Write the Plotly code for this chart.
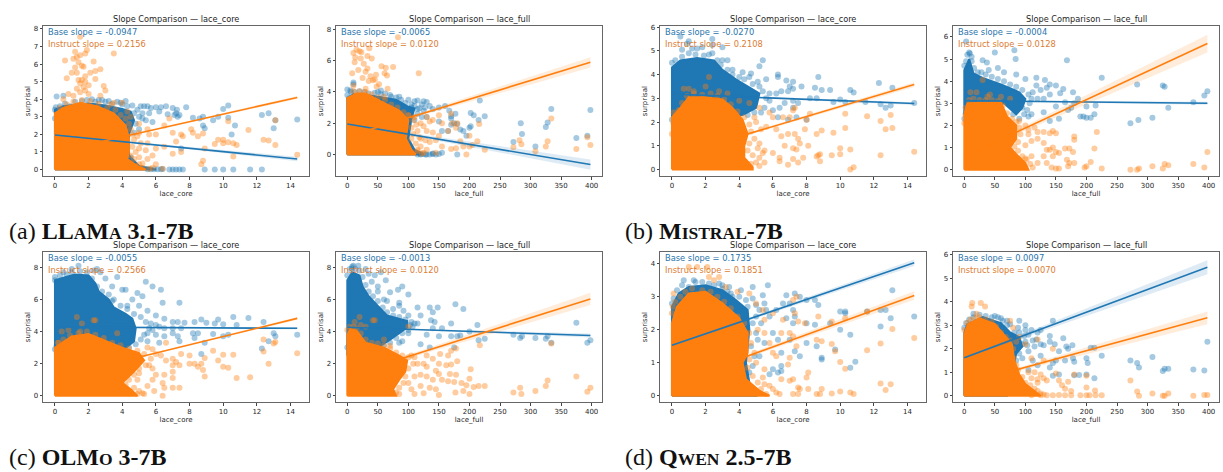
import plotly.graph_objects as go

W, H = 1223, 472
BLUE, ORANGE = "#1f77b4", "#ff7f0e"
INK = "#262626"
FONT = "DejaVu Sans"

TITLES = ["lace_core", "lace_full"] * 4
BASE_SLOPES = ["-0.0947", "-0.0065", "-0.0270", "-0.0004", "-0.0055", "-0.0013", "0.1735", "0.0097"]
INST_SLOPES = ["0.2156", "0.0120", "0.2108", "0.0128", "0.2566", "0.0120", "0.1851", "0.0070"]

CORE_TICKS = [0, 2, 4, 6, 8, 10, 12, 14]
FULL_TICKS = [0, 50, 100, 150, 200, 250, 300, 350, 400]
Y_TICKS = [[0,1,2,3,4,5,6,7,8], [0,2,4,6,8], [0,1,2,3,4,5,6], [0,1,2,3,4,5,6],
           [0,2,4,6,8], [0,2,4,6,8], [0,1,2,3,4], [0,1,2,3,4,5,6]]
X_RANGES = [(-0.71,15.1), (-18.5,417)] * 4
Y_RANGES = [(-0.38,8.17), (-1.4,8.23), (-0.28,6.05), (-0.3,6.5),
            (-0.41,8.96), (-0.41,8.96), (-0.2,4.36), (-0.28,6.13)]

# plot frames: left, right, top, bottom
FRAMES = [(43,309,24,175), (336,602,24,175), (660,926,24,175), (953,1219,24,175),
          (43,309,251,402), (336,602,251,402), (660,926,251,402), (953,1219,251,402)]

LINE_X1 = [14.4, 398] * 4
BASE_Y0 = [1.97, 1.95, 3.18, 3.12, 4.28, 4.27, 1.53, 1.62]
BASE_Y1 = [0.60, -0.65, 2.78, 3.00, 4.20, 3.75, 4.03, 5.48]
BASE_HW = [0.13, 0.33, 0.06, 0.07, 0.08, 0.12, 0.10, 0.30]
INST_Y0 = [1.00, 1.15, 0.55, 0.60, 1.12, 1.25, 0.37, 0.50]
INST_Y1 = [4.10, 5.90, 3.58, 5.70, 4.82, 6.03, 3.04, 3.32]
INST_HW = [0.08, 0.33, 0.10, 0.40, 0.08, 0.38, 0.13, 0.27]

# dense clouds, outlined
BASE_CORE = [
 [(0,0),(0,3.4),(0.5,3.6),(2,3.75),(3,3.65),(4,3.45),(4.5,3.3),(4.7,2.8),(4.4,2.0),(4.4,0.8),(5,0.2),(6,0)],
 [(0,0),(0,3.6),(10,3.85),(40,3.75),(80,3.5),(100,3.05),(110,2.95),(105,2.3),(100,1),(110,0.3),(125,0)],
 [(0,2.2),(0,4.3),(0.5,4.6),(1.5,4.7),(2.5,4.6),(3,4.2),(3.8,3.8),(4.5,3.5),(5.2,3.2),(5,2.6),(4.2,2.3)],
 [(0,2.5),(0,4.5),(8,5.0),(15,4.35),(30,4.15),(60,3.85),(90,3.5),(100,3.2),(95,2.8),(85,2.5),(65,3)],
 [(0,2.5),(0,7.2),(0.5,7.35),(1.2,7.55),(2,7.5),(2.4,7),(2.6,6.5),(3.2,6),(3.5,5.5),(4.2,5.1),(4.6,4.8),(4.8,4.2),(4.7,3.4),(4,2.8)],
 [(0,2.5),(0,7.2),(8,7.7),(20,7.5),(25,6.8),(35,6.2),(50,5.6),(65,5),(98,4.65),(98,4.25),(70,3.5),(50,3)],
 [(0,0),(0,2.7),(0.4,3.1),(1,3.3),(2,3.35),(3,3.2),(3.8,2.9),(4.5,2.6),(4.6,2),(4.4,1),(4.6,0.4),(5,0)],
 [(0,0),(0,2.7),(5,3.05),(30,3.35),(60,3.1),(75,2.7),(90,2.5),(95,2.1),(85,1.8),(80,1.2),(70,0)],
]
INST_CORE = [
 [(0,0),(0,3.2),(0.5,3.5),(1.5,3.8),(2.5,3.6),(3.5,3.2),(4.2,2.5),(4.4,1.8),(4.4,1.0),(4.3,0.6),(4.9,0.2),(5.4,0)],
 [(0,0),(0,3.6),(15,3.9),(30,3.9),(60,3.3),(85,2.8),(100,2.2),(98,1.6),(96,1),(105,0.3),(112,0)],
 [(0,0),(0,2.2),(0.5,2.6),(1,3.05),(2,3.05),(3,2.95),(3.6,2.6),(4.2,2.1),(4.5,1.5),(4.3,1),(4.3,0.5),(4.8,0.1),(4.8,0)],
 [(0,0),(0,2.5),(5,3),(60,3.05),(70,2.4),(85,2),(85,1.4),(75,1),(85,0.7),(100,0.3),(105,0)],
 [(0,0),(0,3),(0.3,3.2),(1,3.7),(2,3.85),(3,3.45),(4,3),(5,2.65),(5.3,2.2),(4.7,1.5),(4,0.8),(4.5,0.4),(4.9,0)],
 [(0,0),(0,3.8),(5,4.15),(15,4.05),(30,3.3),(60,3.0),(85,2.5),(98,2.2),(95,1.5),(85,1),(75,0.4),(80,0)],
 [(0,0),(0,2.2),(0.3,2.7),(1,3.1),(2,3.15),(3,2.8),(4,2.35),(4.5,1.9),(4.5,1.3),(4.2,1),(4.4,0.5),(5.2,0.15),(5.8,0)],
 [(0,0),(0,2.6),(6,3.05),(25,3.3),(50,3.05),(65,2.6),(78,2.2),(82,1.5),(90,0.9),(100,0.5),(115,0.2),(125,0)],
]

# points along the edge of each cloud
BASE_EDGE = [
 [(0,3.4),(0.05,3.55),(0.1,3.3),(0.3,3.6),(0.6,3.75),(0.9,3.6),(1.2,3.85),(1.6,3.9),(1.9,3.95),(2.4,3.85),(2.6,3.95),(3,3.85),(3.4,3.75),(3.7,3.85),(4,3.7),(4.3,3.6),(4.6,3.65),(4.9,3.4),(4.7,3.2),(5,3.0),(5.2,2.9),(4.8,2.6),(5,2.3),(4.7,2.1),(5.4,2.8),(5.8,2.7),(5.5,0.02),(5.7,0.02),(5.9,0.02),(6.1,0.02),(6.3,0.02),(6.4,0.03),(0,2.9)],
 [(0,3.8),(3,3.6),(6,4),(12,4),(20,4.05),(28,4.0),(35,3.9),(45,3.95),(55,3.85),(62,3.9),(72,3.7),(80,3.65),(88,3.5),(95,3.3),(105,3.2),(110,3.1),(118,2.95),(122,3.2),(127,3.0),(115,2.6),(122,2.4),(110,2.2),(105,2.5),(128,0),(135,0),(140,0.02),(145,0),(150,0.02),(125,0.02),(120,0),(115,0)],
 [(0,4.5),(0.2,4.6),(0.6,4.75),(1,4.9),(1.4,4.85),(1.9,4.8),(2.2,4.85),(2.7,4.6),(2.9,4.4),(3.3,4.2),(3.6,4.0),(4,3.9),(4.3,3.8),(4.8,3.6),(5.1,3.7),(5.4,3.3),(5.6,3),(5.8,2.9),(5.5,2.6),(5.3,2.4),(4.9,2.4),(4.5,2.3),(0,2.1),(0.1,1.95),(0.3,2.2),(0.15,2.35),(0.25,2.5)],
 [(0,4.7),(3,4.9),(5,5.2),(9,5.25),(12,4.9),(16,4.6),(22,4.4),(28,4.4),(35,4.3),(45,4.2),(55,4.1),(65,4.0),(75,3.85),(85,3.75),(95,3.6),(105,3.4),(110,3.2),(107,3),(103,2.7),(98,2.5),(90,2.3),(80,2.5),(0,2.3),(2,2.5),(95,2.8),(112,3.5)],
 [(0,7.4),(0.3,7.5),(0.7,7.55),(1,7.7),(1.5,7.75),(1.9,7.7),(2.2,7.3),(2.5,6.8),(2.8,6.5),(3.2,6.3),(3.4,5.9),(3.9,5.6),(4.3,5.4),(4.7,5.1),(5.1,4.9),(5.4,4.6),(5.6,4.2),(5.3,3.8),(5.1,3.5),(4.8,3.2),(4.4,3),(0,2.9),(0.1,3.1),(5.8,4.1),(6.2,4.3),(6.5,4.2),(7,4.2),(7.5,4.2),(6,4.4)],
 [(0,7.5),(4,7.9),(8,7.95),(13,7.9),(20,7.8),(25,7.4),(30,6.9),(35,6.5),(42,6.2),(50,5.9),(58,5.5),(65,5.2),(75,5),(85,4.9),(95,4.75),(105,4.6),(103,4.4),(107,4.3),(100,4.1),(90,3.9),(80,3.6),(70,3.3),(60,3.1),(50,2.9),(40,2.9),(0,3),(3,3.2)],
 [(0,2.8),(0.1,2.95),(0.3,3.2),(0.6,3.35),(1,3.3),(1.4,3.45),(1.8,3.45),(2.2,3.4),(2.5,3.35),(3,3.25),(3.3,3.15),(3.6,3),(4,3),(4.4,2.9),(4.8,2.95),(5,2.75),(5.2,2.6),(5,2.4),(4.8,2.2),(5,1.9),(5.1,1.7),(4.7,1.5),(4.9,1.2),(4.8,0.9),(4.6,0.7),(3.5,3.1),(4.5,2.7),(5.3,2.2),(5.6,2.6),(5.8,2.4)],
 [(0,2.9),(3,3.1),(8,3.25),(15,3.35),(25,3.45),(35,3.4),(45,3.35),(55,3.35),(63,3.2),(70,3),(75,3.05),(82,2.7),(90,2.7),(98,2.55),(105,2.6),(110,2.8),(112,2.35),(103,2.15),(95,2.2),(90,1.8),(85,1.5),(95,1.6),(82,1.1),(78,0.9),(105,1.9),(100,2.8),(118,2.4),(125,2.2),(88,2.9)],
]
INST_EDGE = [
 [(4.4,2.6),(4.5,2.3),(4.6,2),(4.7,1.7),(4.9,1.9),(5.1,1.5),(4.6,1.3),(4.8,1),(4.5,0.8),(4.7,0.6),(5,0.7),(5.2,0.35),(4.8,0.2),(5.2,0.1),(5.6,0.05),(5.8,0.1),(4.2,2.9),(3.9,3.1),(3.6,3.4),(3.1,3.5),(2.6,3.75),(2.1,3.9),(1.6,3.95),(1.1,3.85),(0.7,3.7),(0.3,3.5),(5.4,1.1),(5.6,2.0),(5,2.1),(4.3,3.3),(3.3,3.7)],
 [(10,4.05),(20,4.05),(30,4),(40,3.85),(50,3.65),(62,3.5),(72,3.2),(82,3),(92,2.7),(100,2.5),(108,2.2),(113,1.9),(105,1.7),(115,1.5),(108,1.3),(105,1),(118,1.1),(112,0.7),(120,0.5),(115,0.2),(122,0.05),(130,0.3),(125,1.8),(128,0.9)],
 [(0,1.5),(0.1,2.4),(0.4,2.5),(0.6,2.8),(0.9,3.1),(1.3,3.2),(1.8,3.15),(2.3,3.2),(2.7,3.1),(3.1,2.95),(3.5,2.75),(3.9,2.45),(4.3,2.2),(4.6,1.9),(4.7,1.6),(4.9,1.3),(4.6,1.1),(4.5,0.8),(4.8,0.6),(5,0.3),(4.7,0.25),(5.2,0.15),(5.4,0.7),(5.3,1.7),(4.9,2.2),(5.1,0.9)],
 [(0,2.1),(2,2.8),(8,3.15),(15,3.2),(25,3.15),(35,3.15),(45,3.15),(55,3.1),(63,2.9),(70,2.55),(78,2.3),(85,2.15),(90,1.9),(92,1.6),(88,1.25),(82,1.05),(88,0.85),(95,0.6),(102,0.45),(108,0.25),(112,0.1),(100,1.1),(105,1.8)],
 [(0.2,3.3),(0.5,3.5),(0.9,3.75),(1.4,3.9),(1.9,4),(2.4,3.8),(2.9,3.6),(3.4,3.3),(3.9,3.15),(4.4,2.95),(4.9,2.8),(5.3,2.6),(5.7,2.3),(5.4,1.9),(5,1.7),(4.7,1.3),(4.4,1),(4.2,0.7),(4.7,0.5),(5,0.3),(5.2,0.15),(4.9,1),(5.6,1.9),(4.9,0.1)],
 [(0,4.1),(4,4.3),(10,4.3),(15,4.2),(22,3.9),(30,3.5),(40,3.3),(50,3.25),(60,3.15),(70,2.95),(80,2.7),(90,2.5),(100,2.4),(108,2),(100,1.7),(95,1.2),(92,0.8),(85,0.5),(80,0.2),(85,0.1),(100,0.8),(110,1.2),(105,0.4)],
 [(0,2.5),(0.05,2.7),(0.2,2.85),(0.5,3),(0.8,3.15),(1.2,3.25),(1.8,3.2),(2.3,3.15),(2.7,3),(3.1,2.85),(3.5,2.65),(3.9,2.4),(4.3,2.2),(4.6,1.9),(4.7,1.6),(4.9,1.3),(4.6,1.1),(4.5,0.85),(4.8,0.6),(5.1,0.4),(5.5,0.35),(5.8,0.3),(6,0.2),(6.2,0.1),(6.4,0.05),(5,0.15),(5.3,0.2),(5.6,0.05),(5.1,2),(5.4,0.55)],
 [(0,2.8),(5,3.1),(10,3.25),(18,3.3),(25,3.35),(35,3.25),(45,3.15),(52,2.95),(60,2.7),(68,2.5),(75,2.35),(80,2),(80,1.6),(85,1.3),(88,1.1),(95,0.8),(100,0.55),(108,0.45),(115,0.3),(120,0.2),(125,0.1),(130,0.05),(92,0.35),(105,1),(120,0.55),(110,0.75),(85,2.3)],
]

# individually visible points
BASE_PTS = [
 [(0.1,4.15),(0.5,4.2),(2.2,4.0),(2.8,3.95),(3.2,3.9),(4.2,3.9),(3.9,3.8),(5.1,3.6),(5.3,3.6),(5.5,3.6),(5.7,3.5),(6,3.55),(6.3,3.55),(6.6,3.6),(7,3.5),(7.2,3.2),(7.25,3.4),(7.3,3.0),(7.8,3.55),(5.2,3.2),(5.6,3.2),(6.2,3.3),(6.7,3.15),(7.1,3.1),(7.4,3.1),(8.2,2.95),(8.6,2.9),(8.8,3),(8.8,2.5),(8.9,2.35),(9.4,2.8),(9.7,3),(10,3.45),(10.3,3.65),(10.3,2.95),(10.7,2.5),(10.5,2),(12.3,3.1),(12.7,3.2),(13.1,2.8),(13,2.35),(14.4,2.85),(6.8,0),(7,0),(7.2,0),(7.4,0),(7.6,0),(8.9,0),(9.5,0),(10,0),(10.6,0),(11.6,0),(12.3,0),(7.5,1.2),(4.5,0.7)],
 [(0,4.15),(5,4.1),(10,4.5),(10,4.6),(50,4.0),(55,4.1),(70,3.8),(85,3.7),(100,3.5),(110,3.4),(115,3.45),(125,3.4),(130,3.35),(135,3.1),(105,3),(115,2.9),(125,2.8),(130,2.4),(140,2.9),(150,3),(160,3.1),(167,2.8),(170,2.45),(170,2.3),(177,2.6),(150,2.1),(155,1.5),(165,1.5),(170,1.9),(175,2),(180,1.95),(185,1.6),(190,1.5),(195,1.2),(200,1.7),(202,1.8),(202,2.65),(207,2.5),(215,2.2),(217,3.45),(225,2.45),(180,0),(155,0.1),(272,0.8),(284,2),(286,1.3),(308,0.5),(325,1.75),(328,2.05),(334,2.9),(375,1.05),(393,1.2),(398,2.85),(140,0.05),(120,0.02),(130,0)],
 [(0.5,5.6),(0.6,5.05),(0.9,5.3),(1,5.4),(1.2,5.1),(1.5,5.1),(1.8,5.15),(2.4,5.5),(2.4,5.25),(3,5.15),(2.4,4.9),(3,4.6),(3.3,4.6),(3.6,4.2),(4.2,4.1),(4.7,4.05),(5.2,4.35),(5.4,4.6),(4.6,3.9),(5.6,3.8),(6.3,4),(6.3,3.9),(6.8,3.75),(7.2,3.7),(6.2,3.2),(6.5,3.3),(6.9,3.3),(7,3.5),(7.2,3.4),(7.2,2.9),(7.5,2.8),(7.7,3.5),(7.2,2.6),(6.4,2.6),(6,2.5),(6.3,2.2),(6.9,2.1),(7.4,2.2),(8.5,3.45),(8.7,3.9),(8.9,3.35),(8.2,3),(8.6,3),(9.4,3.35),(8,2.1),(9.6,2.85),(10,2.95),(10.3,2.85),(10.6,3.35),(10.8,3.25),(11.5,2.85),(12.3,3.65),(12.4,2.75),(12.7,2.6),(13,2.7),(13.1,3.45),(14.4,2.8),(5.2,3.5),(5.8,3.2),(6.7,2.8)],
 [(3,5.8),(8,5.3),(12,5.1),(30,4.95),(37,4.85),(50,5.3),(82,5.4),(84,5),(168,4.95),(40,4.5),(55,4.6),(65,4.4),(85,4.3),(100,4.1),(118,4.15),(132,4.05),(140,3.85),(150,3.8),(162,3.65),(157,3.45),(135,3.7),(118,3.8),(125,3.6),(178,3.5),(120,3.2),(130,3.2),(140,3.4),(150,2.85),(165,3.05),(175,2.8),(180,3),(186,3.2),(170,2.7),(155,2.3),(140,2.2),(130,2.6),(110,2.5),(105,2.4),(200,2.85),(215,2.9),(225,4.15),(190,2.4),(195,2.4),(200,2.35),(207,2.35),(213,2.5),(283,3.85),(325,3.8),(328,3.75),(334,2.8),(272,2.1),(285,2.25),(308,2.35),(375,3.05),(393,3.35),(398,3.55)],
 [(0,7.2),(0.5,7.7),(1,7.9),(1.4,8.1),(2.3,7.8),(2.5,7.9),(2.7,7.7),(3,7.3),(3.7,7.4),(5.4,7.1),(5.8,6.8),(6.3,6.6),(3.4,6.8),(4,6.6),(4.2,6.6),(4.9,6.4),(5.2,6.2),(4.6,6),(7.4,5.8),(6.4,5.8),(3.5,6.0),(4.3,5.6),(5,5.6),(5.5,5.3),(6,5),(6.5,4.8),(7,4.6),(7.3,4.6),(7.7,4.55),(8.3,4.6),(8.7,4.75),(9,4.55),(9.5,4.5),(9.7,4.75),(10,4.45),(10.6,4.9),(10.8,4.4),(11.5,4.85),(12.4,4.6),(5.5,3.9),(6,3.8),(6.5,3.7),(7,3.9),(7.3,3.7),(7.4,3.4),(6.2,3.3),(5.5,3.4),(8.2,3.9),(8.5,3.9),(8.3,3.6),(8.9,3.3),(9.4,3.85),(10,3.7),(10.3,3.8),(8.7,2.6),(12.3,2.95),(12.7,3.4),(13,3.9),(13.1,3.7),(14.4,3.8),(5.7,4.5)],
 [(8,8.05),(10,8.1),(18,8.1),(30,7.9),(35,7.6),(45,7.5),(55,7.7),(63,7.2),(40,7.1),(50,6.8),(70,6.45),(83,6.6),(90,6.8),(100,6.3),(50,6.5),(60,6),(65,5.9),(75,5.4),(85,5.6),(85,5.8),(92,5.3),(100,5),(115,5.5),(120,5),(135,5.5),(140,5.2),(148,5.5),(177,5.7),(190,5.4),(137,4.7),(143,4.6),(170,4.5),(110,4.5),(115,4.5),(155,4.2),(140,4.2),(213,4.4),(375,4.55),(100,3.9),(130,3.8),(150,3.7),(170,3.7),(180,3.7),(185,3.75),(200,4),(215,3.45),(225,3.55),(120,3.2),(135,3),(85,3.3),(90,3.4),(175,3),(272,3.8),(283,3.6),(286,3.7),(308,3.6),(325,3.55),(328,3.7),(334,3.3),(393,3.3),(398,3.45)],
 [(0.7,3.5),(1.3,3.5),(2.8,3.4),(3,3.35),(3.4,3.3),(4.1,3.2),(4.8,3.3),(5.7,3.35),(5.4,3.05),(6.8,3.05),(7.3,3.1),(7.6,3),(8,2.9),(8.5,2.9),(6.2,2.6),(6.6,2.8),(7,2.8),(7.2,2.6),(5.5,2.8),(8.7,2.75),(6.8,2.35),(7.3,2.4),(7.2,2.2),(8,2.2),(8.5,2.15),(6,1.9),(6.3,1.7),(7,1.7),(5.5,1.6),(5.2,1.2),(6.5,1.3),(7.3,1.35),(7.6,1.2),(8,1.6),(8.6,1.5),(8.9,1.15),(8.9,1.1),(6,0.8),(6.5,0.9),(5.8,0.65),(6.3,0.7),(6.5,0.75),(9.4,2.2),(10,2.55),(10.3,2.5),(10.3,2.55),(10,2),(9.7,1.4),(10.6,1.85),(10.6,0.85),(10.9,1.03),(11.6,2.55),(12.4,2.6),(12.4,2.1),(12.7,2.6),(13,2.35),(13.1,3.2),(14.4,2.4)],
 [(15,3.5),(50,3.4),(60,3.3),(70,3.2),(90,3.2),(100,3),(125,2.8),(145,3.2),(120,2.7),(140,2.3),(148,2.2),(130,2.15),(115,2.1),(100,2.3),(112,1.5),(125,1.7),(140,2.55),(162,2.45),(167,2.1),(170,2),(177,2.15),(178,1.6),(180,1.45),(155,1.9),(150,1.5),(145,1.4),(140,1.2),(165,1.5),(200,1.6),(202,1.4),(207,2.05),(213,2.05),(225,1.7),(145,0.85),(155,0.9),(180,0.87),(188,0.88),(200,0.9),(213,0.75),(272,1.5),(283,1.4),(286,1.2),(308,1.65),(325,1.05),(328,1.15),(334,1.15),(375,1.12),(393,1.08),(398,2.3),(120,1.3),(105,1.1)],
]
INST_PTS = [
 [(1.2,6.7),(1.3,6.4),(1.5,6.5),(1.8,6.6),(1.9,6.8),(0.6,6.2),(1.1,6.3),(1.4,6.1),(3.5,6.6),(2.3,6.15),(1.2,5.8),(1.6,5.9),(1.7,5.85),(2.1,5.5),(2.4,5.6),(2.7,5.7),(1,5.5),(1.3,5.5),(1.8,5.3),(0.7,5.2),(1.4,5.1),(1.6,5.1),(1.8,5.0),(2.4,5.15),(1.5,7.55),(1.5,4.9),(1.7,4.7),(2,4.8),(2.9,4.75),(3,4.5),(1.3,4.6),(1.8,4.5),(0.8,4.3),(1.1,4.2),(1.5,4.4),(2,4.3),(2.7,4.2),(0.5,4.0),(3.5,3.8),(4,3.8),(4.5,3),(5,2.6),(5.5,2.3),(6,2),(6.5,2.5),(6.8,2.9),(7,2.1),(7.5,2),(7.2,1.6),(6.5,1.3),(7,0.9),(5.8,0.8),(6,1.2),(5.5,1.5),(5,1.2),(5.5,0.6),(6,0.3),(5,0.3),(6.4,0.05),(7.5,1.0),(7.6,1.9),(8.1,2.3),(8.2,2.1),(8.5,1.9),(8.8,2.05),(8.9,1.2),(8.8,0.5),(8.7,0.3),(9.5,1.45),(9.7,1.7),(10,1.5),(10,1.7),(10.3,1.55),(10.6,1.5),(10.8,1.4),(10.6,0.75),(10.3,2.75),(11.5,2.25),(12.4,1.7),(12.7,1.65),(13.1,2.8),(13.1,1.4),(14.4,0.85)],
 [(83,7.5),(117,5.2),(10,6.5),(15,6.7),(20,6.6),(23,6.55),(33,6.3),(36,6.8),(40,6.15),(13,6.2),(22,6.15),(12,5.9),(27,5.8),(33,5.5),(18,5.4),(8,5.2),(30,5.3),(56,5.65),(63,5.55),(75,5.6),(61,5.2),(65,5.05),(38,5),(47,5.1),(45,4.8),(25,4.9),(35,4.7),(42,4.75),(52,4.5),(48,4.35),(66,4.2),(10,4.4),(30,4.2),(60,3.7),(100,2.5),(110,2.4),(120,2),(130,2.4),(135,2.1),(140,2.2),(150,2.5),(155,2),(170,2.6),(172,2),(180,2),(178,1.7),(165,1.5),(130,1.5),(140,1.4),(150,1.2),(120,1),(135,0.8),(145,0.9),(155,0.5),(170,0.35),(178,0.4),(185,0.85),(190,0.5),(195,0),(200,1.2),(200,0.5),(213,0.85),(205,0.6),(225,0.3),(216,1.95),(272,0.45),(282,0.9),(285,0.65),(325,0.5),(328,0.85),(334,2.3),(308,0.2),(375,0.35),(393,1.1),(398,0.6),(145,0.1),(115,0.3),(125,0.1)],
 [(0.7,3.4),(1,3.4),(1.3,3.3),(2,3.5),(2.8,3.3),(3.3,3.2),(2.2,3.9),(4,2.9),(4.6,2.8),(5.2,2.6),(5.8,2.4),(6,2.2),(6.6,2.2),(7,2.2),(7.3,2.6),(7.2,2.5),(5,2),(5.6,1.8),(6.2,1.7),(6.5,1.4),(6.9,1.5),(7.3,1.5),(7.5,1.3),(7.6,1.1),(7.2,0.9),(7.4,0.85),(5.2,1.1),(5.5,0.8),(6,0.7),(6.4,0.5),(6.7,1.0),(7.2,0.45),(7.8,0.5),(7.5,0.3),(6.9,0.2),(6.4,0.35),(5.5,0.3),(5.2,0.5),(8,2.1),(8.2,2.35),(7.9,1.7),(8.6,1.5),(8.9,1.65),(9.6,1.55),(10.3,1.75),(10.3,2.35),(8.7,0.6),(8.8,0.65),(8.8,0.35),(8.6,0.55),(8.1,1),(9.5,0.6),(10,0.9),(10,0.65),(10.6,0.85),(10.6,0),(10.8,0.1),(11.6,2.25),(12.4,2.05),(12.7,1.7),(13,2.3),(13.1,1.75),(12.4,0.6),(14.4,0.75)],
 [(10,3.5),(20,3.5),(38,3.3),(42,3.4),(60,3.3),(75,3.2),(30,4.05),(90,2.2),(100,2.0),(115,1.9),(105,1.6),(120,1.7),(130,1.7),(140,1.65),(145,1.75),(150,1.65),(110,1.3),(120,1.4),(130,1.2),(135,0.9),(140,0.9),(145,1.0),(110,0.6),(130,0.6),(145,0.6),(100,0.5),(120,0.3),(135,0.3),(150,0.8),(155,0.75),(165,0.95),(172,0.95),(180,1.5),(180,1.35),(178,0.8),(168,0.45),(172,0.3),(180,0.3),(170,0.15),(143,0.1),(150,0.05),(155,0.05),(197,0.1),(200,0.15),(207,0.35),(213,0.95),(217,1.7),(225,0.05),(272,0),(283,0),(286,0.05),(308,0.15),(325,0.05),(328,0.25),(334,0.2),(375,0.25),(393,0.1),(398,0.8)],
 [(1.3,4.9),(2.3,4.7),(2.4,4.7),(1.6,4.5),(0.4,4),(0.8,4.1),(1.5,4),(3.7,3.9),(0.2,3.3),(5.5,3),(5.8,2.9),(6.6,3.3),(6,2.6),(6.3,2.5),(6.6,2.2),(7,2.3),(7.2,2.1),(7.4,1.9),(7.5,2.6),(7,1.9),(5.8,1.7),(5,1.4),(6,1.3),(5.8,1),(6.5,1.3),(7,1.5),(6.4,0.8),(6.5,0.5),(7,0.5),(7.4,0.5),(7,1.1),(5.5,0.6),(5.9,0.3),(5.3,0.1),(6.4,0),(8,2.5),(8,2),(8.3,2),(8.5,1.8),(8.7,2),(8.8,1.6),(8.9,1.2),(8.9,2.35),(9.4,2.8),(9.7,2.2),(10,2.55),(10,1.8),(10.3,1.75),(10.6,2.55),(10.8,1.1),(11.6,1.15),(12.4,3.5),(12.4,2.75),(12.7,2),(13.1,3.35),(13,3.25),(14.4,2.65)],
 [(20,4.9),(22,4.4),(12,4.6),(42,4.7),(45,4.7),(100,4.3),(30,4.3),(60,3.5),(70,3.1),(105,2.5),(110,2.4),(130,2.5),(115,2),(125,2),(130,1.8),(140,2.3),(152,2.6),(165,2.5),(170,2.8),(178,2.95),(150,2),(162,1.9),(170,1.95),(180,2.15),(145,1.55),(150,1.35),(168,1.35),(178,1.3),(120,1.3),(130,1.2),(140,1),(155,1),(165,0.9),(175,0.85),(187,0.8),(195,0.65),(200,1.05),(202,1.65),(120,0.6),(135,0.5),(145,0.4),(110,0.1),(125,0.15),(150,0.05),(177,0.2),(190,0.3),(200,0.1),(207,0.55),(215,0.6),(225,0.6),(217,3.15),(272,0.2),(283,0.5),(285,0.1),(308,0.3),(325,0.6),(328,0.95),(334,3.25),(375,1.2),(393,0.25),(398,0.5)],
 [(1,3.9),(1.5,3.9),(2.1,3.9),(2.2,3.6),(2.5,3.5),(2.8,3.6),(0.1,3.1),(3.2,3.3),(3.9,3.15),(4.6,3.1),(5,2.8),(5.4,2.6),(5.5,2.3),(6,2.5),(6.6,2.3),(7.2,2.9),(7.4,3),(7.3,2.5),(7.5,2.25),(7.9,2.2),(8.7,2.4),(5.5,1.9),(5.8,1.6),(6,1.3),(6.5,1.9),(7,1.9),(7.2,1.8),(7.4,1.5),(7,1.15),(6.9,0.95),(6.2,1.2),(5,1),(5.5,0.8),(6.5,0.5),(7,0.45),(7.2,0.5),(7.5,0.25),(7.6,0.2),(8.1,0.2),(8,0.55),(8.1,0.7),(7.2,0.05),(7.5,0.05),(8.6,0.05),(8.8,0.05),(8.9,0.2),(9.5,0.07),(10,0.13),(10.6,0.1),(10.8,0.05),(8.6,1.7),(8.9,1.65),(9.5,1.57),(9.7,1.35),(10,1.02),(10.3,0.82),(10.3,2.35),(11.6,1.38),(12.4,1.58),(12.4,0.37),(12.7,0.17),(13,0.35),(13.1,2.02),(14.4,1.75),(11.6,2.55),(9.5,2.25)],
 [(12,3.8),(13,3.95),(27,3.95),(34,3.8),(20,3.5),(75,3.2),(80,2.9),(90,2.5),(100,2.2),(110,1.6),(120,2.4),(145,2),(130,1.5),(115,1),(125,0.9),(120,0.7),(130,0.75),(135,0.65),(150,0.95),(155,0.65),(160,0.45),(170,0.6),(165,0.3),(175,0.2),(180,0.9),(200,0.35),(214,0.22),(135,0.02),(145,0.02),(155,0.03),(165,0.02),(175,0.02),(190,0.02),(200,0.02),(205,0.02),(215,0.02),(225,0.02),(200,0.85),(272,0.65),(283,0.18),(286,0),(308,0.1),(325,0),(328,0),(334,0.1),(375,0),(393,0.03),(398,0.03),(110,0.02),(125,0.02)],
]

SC = '<span style="font-size:17.5px">{}</span>'
CAPTIONS = [
    ("(a) ", "LL" + SC.format("A") + "M" + SC.format("A") + " 3.1-7B", 7, 230),
    ("(b) ", "M" + SC.format("ISTRAL") + "-7B", 623, 230),
    ("(c) ", "OLM" + SC.format("O") + " 3-7B", 7, 457),
    ("(d) ", "Q" + SC.format("WEN") + " 2.5-7B", 623, 457),
]


def rgba(hex_color, a):
    return f"rgba({int(hex_color[1:3],16)},{int(hex_color[3:5],16)},{int(hex_color[5:7],16)},{a})"


fig = go.Figure()
layout = dict(
    width=W, height=H, autosize=False, showlegend=False,
    margin=dict(l=0, r=0, t=0, b=0),
    paper_bgcolor="white", plot_bgcolor="white",
    font=dict(family=FONT, size=7, color=INK),
)
annotations = []

for i, (l, r, t, b) in enumerate(FRAMES):
    n = "" if i == 0 else str(i + 1)
    xa, ya = "x" + n, "y" + n
    axis = dict(showgrid=False, zeroline=False, showline=True, mirror=True,
                linecolor="#666666", linewidth=1, ticks="outside", ticklen=2.5,
                tickwidth=0.7, tickcolor="#444444", tickfont=dict(size=7, color=INK))
    layout["xaxis" + n] = dict(axis, domain=[l / W, r / W], anchor=ya, range=list(X_RANGES[i]),
                               tickmode="array", tickvals=CORE_TICKS if i % 2 == 0 else FULL_TICKS,
                               title=dict(text=TITLES[i], font=dict(size=7, color=INK), standoff=0))
    layout["yaxis" + n] = dict(axis, domain=[1 - b / H, 1 - t / H], anchor=xa, range=list(Y_RANGES[i]),
                               tickmode="array", tickvals=Y_TICKS[i],
                               title=dict(text="surprisal", font=dict(size=7, color=INK), standoff=2))

    x1 = LINE_X1[i]
    series = ((BASE_CORE[i], BASE_EDGE[i] + BASE_PTS[i], BLUE),
              (INST_CORE[i], INST_EDGE[i] + INST_PTS[i], ORANGE))
    for core, pts, color in series:
        fig.add_trace(go.Scatter(x=[p[0] for p in core] + [core[0][0]],
                                 y=[p[1] for p in core] + [core[0][1]],
                                 mode="lines", fill="toself", fillcolor=color,
                                 line=dict(color=color, width=2),
                                 hoverinfo="skip", xaxis=xa, yaxis=ya))
        fig.add_trace(go.Scatter(x=[p[0] for p in pts], y=[p[1] for p in pts], mode="markers",
                                 marker=dict(color=color, size=6, opacity=0.4, line=dict(width=0)),
                                 xaxis=xa, yaxis=ya))
    for y0, y1, hw, color in ((BASE_Y0[i], BASE_Y1[i], BASE_HW[i], BLUE),
                              (INST_Y0[i], INST_Y1[i], INST_HW[i], ORANGE)):
        fig.add_trace(go.Scatter(x=[0, x1, x1, 0, 0],
                                 y=[y0 + 0.02, y1 + hw, y1 - hw, y0 - 0.02, y0 + 0.02],
                                 mode="lines", fill="toself", fillcolor=rgba(color, 0.15),
                                 line=dict(width=0), hoverinfo="skip", xaxis=xa, yaxis=ya))
        fig.add_trace(go.Scatter(x=[0, x1], y=[y0, y1], mode="lines",
                                 line=dict(color=color, width=1.6), xaxis=xa, yaxis=ya))

    annotations.append(dict(text=f"Slope Comparison — {TITLES[i]}", xref="paper", yref="paper",
                            x=(l + r) / 2 / W, y=1 - (t - 7) / H, xanchor="center", yanchor="middle",
                            showarrow=False, font=dict(size=8.2, color=INK)))
    annotations.append(dict(text=f"Base slope = {BASE_SLOPES[i]}", xref="paper", yref="paper",
                            x=(l + 3) / W, y=1 - (t + 6) / H, xanchor="left", yanchor="middle",
                            showarrow=False, font=dict(size=8.3, color="#2a75ad")))
    annotations.append(dict(text=f"Instruct slope = {INST_SLOPES[i]}", xref="paper", yref="paper",
                            x=(l + 3) / W, y=1 - (t + 18) / H, xanchor="left", yanchor="middle",
                            showarrow=False, font=dict(size=8.3, color="#dc7d33")))

for head, name, px, py in CAPTIONS:
    annotations.append(dict(text=f"{head}<b>{name}</b>", xref="paper", yref="paper",
                            x=px / W, y=1 - py / H, xanchor="left", yanchor="middle",
                            showarrow=False, font=dict(family="Liberation Serif", size=24, color="#111111")))

layout["annotations"] = annotations
fig.update_layout(**layout)
fig.write_html("out.html", config=dict(displayModeBar=False),
               post_script="document.body.style.margin='0';")
